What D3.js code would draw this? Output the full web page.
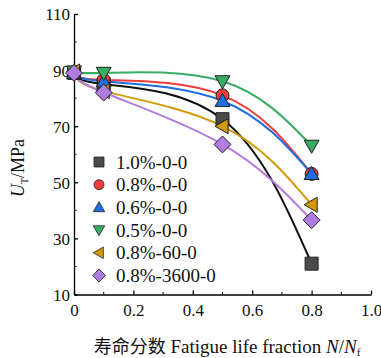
<!DOCTYPE html>
<html>
<head>
<meta charset="utf-8">
<script src="https://cdn.jsdelivr.net/npm/d3@7/dist/d3.min.js"></script>
<style>
  html, body { margin: 0; padding: 0; background: #fff; }
  svg { display: block; }
</style>
</head>
<body>
<svg id="chart" width="381" height="358"></svg>
<script>
// Fatigue life fractions sampled
const fractions = [0, 0.1, 0.5, 0.8];

// Series names (pre-strain - hold time - ...)
const seriesNames = ["1.0%-0-0", "0.8%-0-0", "0.6%-0-0", "0.5%-0-0", "0.8%-60-0", "0.8%-3600-0"];

// U_T (MPa) for each series at each fatigue life fraction
const uT_10 = [89, 85, 72.5, 21];
const uT_08 = [89, 86.5, 81, 53];
const uT_06 = [89, 86, 79, 53];
const uT_05 = [89.5, 89, 86, 63];
const uT_08_60 = [89.5, 82.5, 70, 42];
const uT_08_3600 = [89, 82, 63.5, 36.5];

const seriesValues = [uT_10, uT_08, uT_06, uT_05, uT_08_60, uT_08_3600];

const lineColors = ["#111111", "#ee3b3b", "#1f6fe0", "#36ad63", "#d39b0a", "#b07ce0"];
const fillColors = ["#4a4a4a", "#ee3b3b", "#1f6fe0", "#36ad63", "#d39b0a", "#b07ce0"];
const symbols = ["square", "circle", "triangle", "triangleDown", "triangleLeft", "diamond"];

// Axis tick values
const xTicks = [0, 0.2, 0.4, 0.6, 0.8, 1.0];
const xMinor = [0.1, 0.3, 0.5, 0.7, 0.9];
const yTicks = [10, 30, 50, 70, 90, 110];
const yMinor = [20, 40, 60, 80, 100];

const SERIF = "'Times New Roman', 'Liberation Serif', 'DejaVu Serif', serif";
const CJK = "'Noto Sans CJK SC', sans-serif";

const svg = d3.select("#chart");
const x = d3.scaleLinear().domain([0, 1.0]).range([74, 371]);
const y = d3.scaleLinear().domain([10, 110]).range([294.5, 14]);

// marker path generator
function markerPath(kind, s) {
  switch (kind) {
    case "square": return `M${-s},${-s}H${s}V${s}H${-s}Z`;
    case "circle": return d3.symbol(d3.symbolCircle, Math.PI * s * s)();
    case "triangle": { const h = s * 1.15; return `M0,${-h}L${h},${h * 0.75}L${-h},${h * 0.75}Z`; }
    case "triangleDown": { const h = s * 1.15; return `M0,${h}L${h},${-h * 0.75}L${-h},${-h * 0.75}Z`; }
    case "triangleLeft": { const h = s * 1.15; return `M${-h},0L${h * 0.75},${-h}L${h * 0.75},${h}Z`; }
    case "diamond": { const h = s * 1.3; return `M0,${-h}L${h},0L0,${h}L${-h},0Z`; }
  }
}

// axes
const gx = svg.append("g").attr("transform", `translate(0,${y(10)})`)
  .call(d3.axisBottom(x).tickValues(xTicks).tickSizeInner(-4).tickSizeOuter(0)
    .tickFormat(d => d === 0 ? "0" : d3.format(".1f")(d)));
gx.attr("font-family", null).attr("font-size", null);
gx.selectAll(".tick text").attr("dy", 0).attr("y", 21)
  .style("font-family", SERIF).style("font-size", "17px").attr("fill", "#111");
gx.append("g").selectAll("line").data(xMinor).join("line")
  .attr("x1", d => x(d)).attr("x2", d => x(d)).attr("y1", 0).attr("y2", -2.5)
  .attr("stroke", "#000");

const gy = svg.append("g").attr("transform", `translate(${x(0)},0)`)
  .call(d3.axisLeft(y).tickValues(yTicks).tickSizeInner(-4).tickSizeOuter(0));
gy.attr("font-family", null).attr("font-size", null);
gy.selectAll(".tick text").attr("x", -4).attr("dy", "0.35em")
  .style("font-family", SERIF).style("font-size", "17px").attr("fill", "#111");
gy.append("g").selectAll("line").data(yMinor).join("line")
  .attr("y1", d => y(d)).attr("y2", d => y(d)).attr("x1", 0).attr("x2", 2.5)
  .attr("stroke", "#000");
svg.selectAll(".domain, .tick line").attr("stroke", "#000").attr("stroke-width", 1.3);

// curves
const line = d3.line().x((d, i) => x(fractions[i])).y(d => y(d)).curve(d3.curveNatural);
svg.append("g").selectAll("path").data(seriesValues).join("path")
  .attr("d", d => line(d))
  .attr("fill", "none")
  .attr("stroke", (d, i) => lineColors[i])
  .attr("stroke-width", 2);

// markers (later series drawn on top)
seriesValues.forEach((vals, i) => {
  svg.append("g").selectAll("path").data(vals).join("path")
    .attr("transform", (d, j) => `translate(${x(fractions[j])},${y(d)})`)
    .attr("d", markerPath(symbols[i], 6.5))
    .attr("fill", fillColors[i])
    .attr("stroke", "#222")
    .attr("stroke-width", 1);
});

// legend
const legend = svg.append("g");
seriesNames.forEach((name, i) => {
  const ly = 162 + i * 22.7;
  legend.append("path")
    .attr("transform", `translate(99,${ly})`)
    .attr("d", markerPath(symbols[i], 5))
    .attr("fill", fillColors[i])
    .attr("stroke", "#222")
    .attr("stroke-width", 0.8);
  legend.append("text").attr("x", 116).attr("y", ly + 6.5)
    .style("font-family", SERIF).style("font-size", "19px").attr("fill", "#111")
    .text(name);
});

// axis titles
const yt = svg.append("text")
  .attr("transform", "translate(24,168) rotate(-90)")
  .attr("text-anchor", "middle")
  .style("font-family", SERIF).style("font-size", "18px").attr("fill", "#111");
yt.append("tspan").style("font-style", "italic").text("U");
yt.append("tspan").attr("dy", 4).style("font-size", "10px").text("T");
yt.append("tspan").attr("dy", -4).text("/MPa");

const xt = svg.append("text").attr("x", 227).attr("y", 353)
  .attr("text-anchor", "middle")
  .style("font-family", SERIF).style("font-size", "19px").attr("fill", "#111");
xt.append("tspan").style("font-family", CJK).style("font-size", "18px").text("寿命分数");
xt.append("tspan").text(" Fatigue life fraction ");
xt.append("tspan").style("font-style", "italic").text("N");
xt.append("tspan").text("/");
xt.append("tspan").style("font-style", "italic").text("N");
xt.append("tspan").attr("dy", 3).style("font-size", "11px").text("f");
</script>
</body>
</html>
